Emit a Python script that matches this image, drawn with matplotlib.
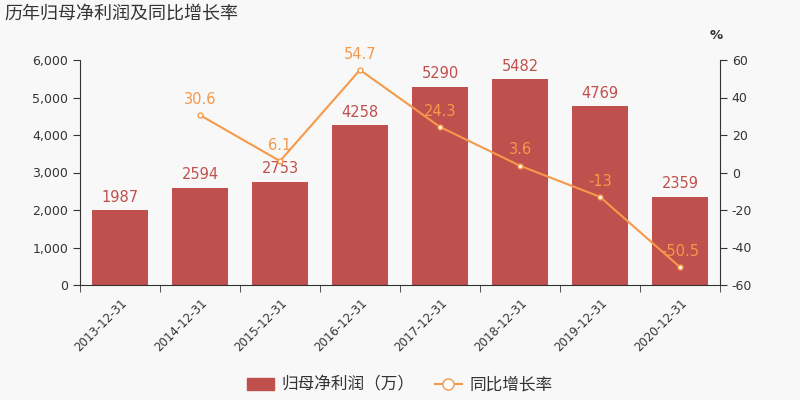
import numpy as np
import matplotlib
matplotlib.use("Agg")
import matplotlib.pyplot as plt
from matplotlib.ticker import FuncFormatter, FixedLocator

plt.rcParams['font.family'] = ['DejaVu Sans', 'Noto Sans CJK SC']
plt.rcParams['axes.unicode_minus'] = False

years = ["2013-12-31", "2014-12-31", "2015-12-31", "2016-12-31",
         "2017-12-31", "2018-12-31", "2019-12-31", "2020-12-31"]
profit = [1987, 2594, 2753, 4258, 5290, 5482, 4769, 2359]
growth = [None, 30.6, 6.1, 54.7, 24.3, 3.6, -13, -50.5]
growth_labels = ["", "30.6", "6.1", "54.7", "24.3", "3.6", "-13", "-50.5"]

bar_color = "#c0504d"
line_color = "#f5994a"
bg = "#f8f8f8"
text_color = "#333333"
cjk = ['Noto Sans CJK SC', 'DejaVu Sans']

fig = plt.figure(figsize=(8, 4), dpi=100, facecolor=bg)
ax = fig.add_axes([0.1, 0.2875, 0.8, 0.5625], facecolor=bg)
ax2 = ax.twinx()

x = np.arange(len(years))
ax.bar(x, profit, width=0.7, color=bar_color, zorder=2)
for xi, v in zip(x, profit):
    ax.annotate(str(v), (xi, v), xytext=(0, 4), textcoords="offset points",
                ha="center", va="bottom", color=bar_color, fontsize=10.5)

ax.set_xlim(-0.5, len(years) - 0.5)
ax.set_ylim(0, 6000)
ax.set_yticks(np.arange(0, 6001, 1000))
ax.yaxis.set_major_formatter(FuncFormatter(lambda v, p: f"{int(v):,}"))
ax.set_xticks(x)
ax.set_xticklabels(years, rotation=45, ha="right", rotation_mode="anchor",
                   fontsize=8.5, color=text_color)
ax.tick_params(axis="x", length=0, pad=8)
ax.xaxis.set_minor_locator(FixedLocator(np.arange(-0.5, len(years), 1)))
ax.tick_params(axis="x", which="minor", length=5, color=text_color)
ax.tick_params(axis="y", labelsize=9, colors=text_color, length=5)

gx = [xi for xi, g in zip(x, growth) if g is not None]
gy = [g for g in growth if g is not None]
ax2.plot(gx, gy, color=line_color, lw=1.5, marker="o", ms=3.5,
         mfc="white", mec=line_color, mew=1, zorder=3)
for xi, g, lab in zip(x, growth, growth_labels):
    if g is None:
        continue
    ax2.annotate(lab, (xi, g), xytext=(0, 6), textcoords="offset points",
                 ha="center", va="bottom", color=line_color, fontsize=10.5)
ax2.set_ylim(-60, 60)
ax2.set_yticks(np.arange(-60, 61, 20))
ax2.tick_params(axis="y", labelsize=9, colors=text_color, length=5)

for a in (ax, ax2):
    a.spines["top"].set_visible(False)
    for s in ("left", "right", "bottom"):
        a.spines[s].set_color(text_color)
ax.spines["right"].set_visible(False)
ax2.spines["left"].set_visible(False)
ax2.spines["bottom"].set_visible(False)

fig.text(0.9 - 0.005, 0.895, "%", ha="center", va="bottom", fontsize=9.5,
         color=text_color, weight="bold")

fig.text(0.006, 0.965, "历年归母净利润及同比增长率", ha="left", va="center",
         fontsize=13, color=text_color, family=cjk)

# legend
handles = [
    plt.Rectangle((0, 0), 1, 1, color=bar_color),
    plt.Line2D([], [], color=line_color, lw=1.5, marker="o", ms=8,
               mfc="white", mec=line_color),
]
leg = fig.legend(handles, ["归母净利润（万）", "同比增长率"], loc="center",
                 bbox_to_anchor=(0.5, 0.0375), ncol=2, frameon=False,
                 fontsize=12, labelcolor=text_color, handlelength=1.6,
                 columnspacing=1.2, handletextpad=0.5,
                 prop={'family': cjk, 'size': 12})

fig.savefig("out.png", dpi=100, facecolor=bg)
